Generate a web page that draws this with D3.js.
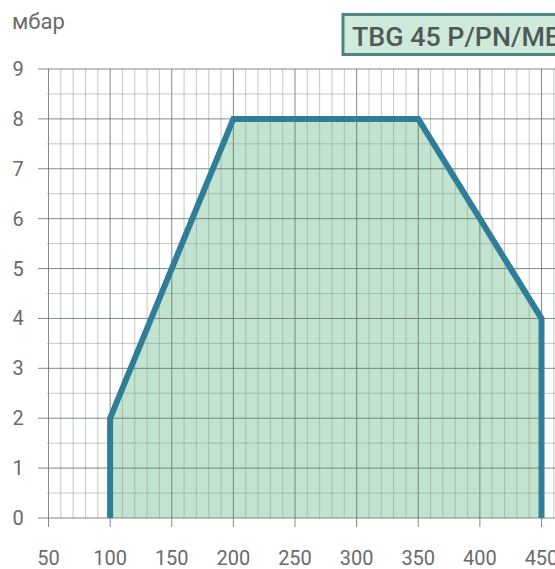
<!DOCTYPE html>
<html>
<head>
<meta charset="utf-8">
<script src="https://cdn.jsdelivr.net/npm/d3@7"></script>
<style>
  body { margin: 0; background: #fff; }
  text { font-family: Roboto, "Open Sans", sans-serif; }
</style>
</head>
<body>
<div id="chart"></div>
<script>
// Data
var xTicks = [50, 100, 150, 200, 250, 300, 350, 400, 450];
var yTicks = [0, 1, 2, 3, 4, 5, 6, 7, 8, 9];
var flowX = [100, 100, 200, 350, 450, 450];
var pressureY = [0, 2, 8, 8, 4, 0];
var unitLabel = "мбар";
var modelLabel = "TBG 45 P/PN/ME";

var svgWidth = 555;
var svgHeight = 569;

var svg = d3.select("#chart")
  .append("svg")
  .attr("width", svgWidth)
  .attr("height", svgHeight);

// scales
var x = d3.scaleLinear().domain([50, 450]).range([48.5, 541.5]);
var y = d3.scaleLinear().domain([0, 9]).range([518, 69]);

var points = flowX.map(function(v, i) { return { q: v, p: pressureY[i] }; });

// fill area under the working range
var area = d3.area()
  .x(d => x(d.q))
  .y0(y(0))
  .y1(d => y(d.p));

svg.append("path")
  .datum(points)
  .attr("d", area)
  .attr("fill", "#c2e3cf");

// grid: vertical lines every 10, darker every 50
var gridG = svg.append("g").attr("class", "grid");
var vLines = d3.range(50, 471, 10);
gridG.selectAll("line.v")
  .data(vLines)
  .enter()
  .append("line")
  .attr("class", "v")
  .attr("x1", d => x(d))
  .attr("x2", d => x(d))
  .attr("y1", y(9))
  .attr("y2", d => d % 50 === 0 ? y(0) + 9 : y(0))
  .attr("stroke", d => d % 50 === 0 ? "#5f6f68" : "#8f9a95")
  .attr("stroke-opacity", d => d % 50 === 0 ? 0.8 : 0.55)
  .attr("stroke-width", 1);

// horizontal lines every 0.5, full length on integers
var hLines = d3.range(0, 9.01, 0.5);
gridG.selectAll("line.h")
  .data(hLines)
  .enter()
  .append("line")
  .attr("class", "h")
  .attr("x1", d => d % 1 === 0 ? 38 : 47)
  .attr("x2", svgWidth)
  .attr("y1", d => y(d))
  .attr("y2", d => y(d))
  .attr("stroke", d => d % 1 === 0 ? "#5f6f68" : "#8f9a95")
  .attr("stroke-opacity", d => d % 1 === 0 ? 0.8 : 0.55)
  .attr("stroke-width", 1);

// the curve
var line = d3.line()
  .x(d => x(d.q))
  .y(d => y(d.p));

svg.append("path")
  .datum(points)
  .attr("d", line)
  .attr("fill", "none")
  .attr("stroke", "#2f7d96")
  .attr("stroke-width", 6)
  .attr("stroke-linejoin", "miter");

// axis labels
svg.selectAll("text.ylab")
  .data(yTicks)
  .enter()
  .append("text")
  .attr("class", "ylab")
  .attr("x", 18)
  .attr("y", d => y(d) + 7)
  .attr("text-anchor", "middle")
  .attr("font-size", 20)
  .attr("fill", "#6a6a6a")
  .text(d => d);

svg.selectAll("text.xlab")
  .data(xTicks)
  .enter()
  .append("text")
  .attr("class", "xlab")
  .attr("x", d => x(d))
  .attr("y", 565)
  .attr("text-anchor", "middle")
  .attr("font-size", 20)
  .attr("fill", "#6a6a6a")
  .text(d => d);

svg.append("text")
  .attr("x", 12)
  .attr("y", 29)
  .attr("font-size", 22)
  .attr("fill", "#6a6a6a")
  .text(unitLabel);

// model name box
svg.append("rect")
  .attr("x", 343)
  .attr("y", 14.5)
  .attr("width", 230)
  .attr("height", 40)
  .attr("fill", "#cfe9da")
  .attr("stroke", "#4f8580")
  .attr("stroke-width", 3);

svg.append("text")
  .attr("x", 352)
  .attr("y", 46)
  .attr("font-size", 25)
  .attr("font-weight", 500)
  .attr("fill", "#4f5a58")
  .attr("textLength", 208)
  .attr("lengthAdjust", "spacingAndGlyphs")
  .text(modelLabel);
</script>
</body>
</html>
